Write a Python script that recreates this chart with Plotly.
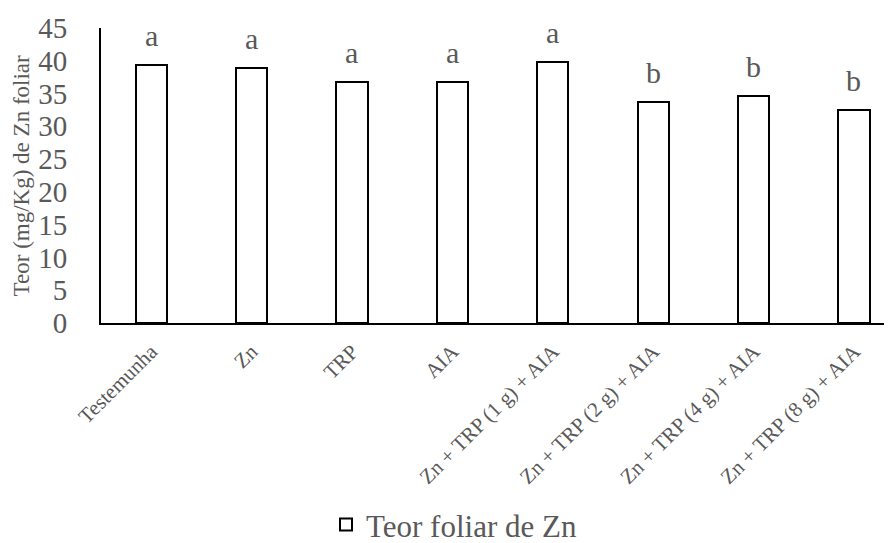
import plotly.graph_objects as go

categories = ["Testemunha", "Zn", "TRP", "AIA",
              "Zn + TRP (1 g) + AIA", "Zn + TRP (2 g) + AIA",
              "Zn + TRP (4 g) + AIA", "Zn + TRP (8 g) + AIA"]
values = [39.4, 38.9, 36.7, 36.75, 39.85, 33.7, 34.7, 32.5]
letters = ["a", "a", "a", "a", "a", "b", "b", "b"]
series_name = "Teor foliar de Zn"
y_ticks = [0, 5, 10, 15, 20, 25, 30, 35, 40, 45]
y_title = "Teor (mg/Kg) de Zn foliar"

FONT = "Liberation Serif, Times New Roman, serif"
GRAY = "#595959"

fig = go.Figure()
fig.add_trace(go.Bar(
    x=categories, y=values, name=series_name, width=0.31,
    marker=dict(color="white", line=dict(color="black", width=2)),
    showlegend=True,
))

for c, v, t in zip(categories, values, letters):
    fig.add_annotation(x=c, y=v, text=t, showarrow=False, xref="x", yref="y",
                       yanchor="bottom", yshift=11,
                       font=dict(family=FONT, size=30, color=GRAY))

fig.add_annotation(x=-0.1, y=0.5, xref="paper", yref="paper", text=y_title,
                   textangle=-90, showarrow=False, xanchor="center", yanchor="middle",
                   font=dict(family=FONT, size=23, color=GRAY))

fig.update_layout(
    width=892, height=543,
    margin=dict(l=93, r=8, t=20, b=228, autoexpand=False),
    paper_bgcolor="white", plot_bgcolor="white",
    font=dict(family=FONT, color=GRAY),
    showlegend=True,
    legend=dict(orientation="h", xref="container", yref="container",
                x=0.5, xanchor="center", y=0.048, yanchor="middle",
                font=dict(family=FONT, size=31, color=GRAY), itemwidth=30),
    xaxis=dict(range=[-0.5, 7.379], showline=True, linecolor="black", linewidth=2,
               ticks="", tickangle=-45, showgrid=False, zeroline=False, automargin=False,
               tickfont=dict(family=FONT, size=21, color=GRAY), ticklabelstandoff=6),
    yaxis=dict(range=[0, 45], tickvals=y_ticks, showline=True, linecolor="black",
               linewidth=2, ticks="", showgrid=False, zeroline=False, automargin=False,
               tickfont=dict(family=FONT, size=29, color=GRAY), ticklabelstandoff=26),
    bargap=0,
)

fig.write_html("out.html")
